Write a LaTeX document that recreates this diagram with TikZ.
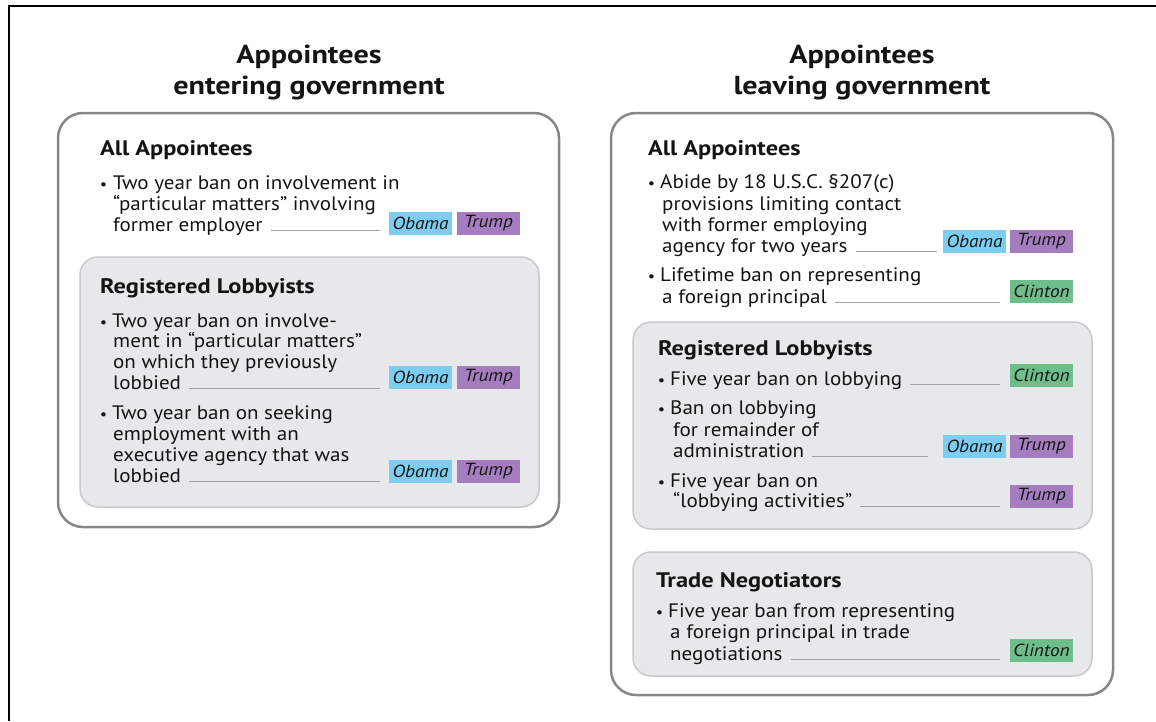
\documentclass[tikz,border=0pt]{standalone}
\usepackage{fontspec}
\setmainfont{PT Sans}[FakeStretch=1.08]
\newfontfamily\hdfont{PT Sans}[FakeStretch=1.16]
\newfontfamily\tagfont{PT Sans}[FakeStretch=1.1]
\definecolor{obama}{RGB}{125,205,240}
\definecolor{trump}{RGB}{165,125,190}
\definecolor{clinton}{RGB}{110,190,140}
\definecolor{boxgray}{RGB}{135,135,135}
\definecolor{innerfill}{RGB}{231,232,234}
\definecolor{innerdraw}{RGB}{200,201,204}
\definecolor{leadgray}{RGB}{160,160,160}
\definecolor{txtcol}{RGB}{20,20,20}
\begin{document}
\begin{tikzpicture}[x=1pt,y=-1pt,
 txt/.style={anchor=base west,inner sep=0pt,text=txtcol,font=\fontsize{19.5}{21}\selectfont},
 bul/.style={anchor=base,inner sep=0pt,text=txtcol,font=\fontsize{15}{15}\selectfont},
 hd/.style={anchor=base west,inner sep=0pt,text=txtcol,font=\hdfont\bfseries\fontsize{21}{24}\selectfont},
 ttl/.style={anchor=base,inner sep=0pt,text=txtcol,font=\hdfont\bfseries\fontsize{26}{30}\selectfont},
 tag/.style={minimum width=63pt,minimum height=23pt,inner sep=0pt,text=txtcol,font=\tagfont\itshape\fontsize{17.5}{18}\selectfont},
 leader/.style={draw=leadgray,line width=1pt},
 outerbox/.style={draw=boxgray,line width=2.5pt,rounded corners=25pt},
 innerbox/.style={fill=innerfill,draw=innerdraw,line width=1.5pt,rounded corners=18pt}]
\useasboundingbox (0,0) rectangle (1156,721);
\draw[line width=1.5pt] (1156,6) -- (9,6) -- (9,721);

% titles
\node[ttl] (tl1) at (309,63) {Appointees};
\node[ttl] (tl2) at (309,94) {entering government};
\node[ttl] (tr1) at (862,63) {Appointees};
\node[ttl] (tr2) at (862,94) {leaving government};

% boxes
\draw[outerbox] (58,113) rectangle (559,527);
\draw[innerbox] (80,257) rectangle (539,507);
\draw[outerbox] (611,113) rectangle (1113,695);
\draw[innerbox] (633,322) rectangle (1092,529);
\draw[innerbox] (633,552) rectangle (1092,676);

% ---------- left ----------
\node[hd] (la) at (100,155) {All Appointees};
\node[bul] (lb1) at (103.5,189) {•};
\node[txt] (l1a) at (113,189) {Two year ban on involvement in};
\node[txt] (l1b) at (113,210) {“particular matters” involving};
\node[txt] (l1c) at (113,231) {former employer};
\node[tag,fill=obama] (lo1) at (420.5,223.5) {Obama};
\node[tag,fill=trump] (lt1) at (488.5,223.5) {Trump};
\draw[leader] ([xshift=8pt,yshift=1pt]l1c.base east) -- ([xshift=-9pt,yshift=1pt]l1c.base east -| lo1.west);

\node[hd] (lr) at (100,293) {Registered Lobbyists};
\node[bul] (lb2) at (103.5,327) {•};
\node[txt] (l2a) at (112,327) {Two year ban on involve-};
\node[txt] (l2b) at (113,347) {ment in “particular matters”};
\node[txt] (l2c) at (113,368) {on which they previously};
\node[txt] (l2d) at (113,389) {lobbied};
\node[tag,fill=obama] (lo2) at (420.5,377) {Obama};
\node[tag,fill=trump] (lt2) at (488.5,377) {Trump};
\draw[leader] ([xshift=8pt,yshift=1pt]l2d.base east) -- ([xshift=-9pt,yshift=1pt]l2d.base east -| lo2.west);

\node[bul] (lb3) at (103.5,419) {•};
\node[txt] (l3a) at (112,419) {Two year ban on seeking};
\node[txt] (l3b) at (113,440) {employment with an};
\node[txt] (l3c) at (113,461) {executive agency that was};
\node[txt] (l3d) at (113,482) {lobbied};
\node[tag,fill=obama] (lo3) at (420.5,471) {Obama};
\node[tag,fill=trump] (lt3) at (488.5,471) {Trump};
\draw[leader] ([xshift=8pt,yshift=1pt]l3d.base east) -- ([xshift=-9pt,yshift=1pt]l3d.base east -| lo3.west);

% ---------- right ----------
\node[hd] (ra) at (648,155) {All Appointees};
\node[bul] (rb1) at (651.5,188) {•};
\node[txt] (r1a) at (660,188) {Abide by 18 U.S.C. §207(c)};
\node[txt] (r1b) at (662,210) {provisions limiting contact};
\node[txt] (r1c) at (662,231) {with former employing};
\node[txt] (r1d) at (662,252) {agency for two years};
\node[tag,fill=obama] (ro1) at (974.5,241.5) {Obama};
\node[tag,fill=trump] (rt1) at (1041.5,241.5) {Trump};
\draw[leader] ([xshift=8pt,yshift=1pt]r1d.base east) -- ([xshift=-6pt,yshift=1pt]r1d.base east -| ro1.west);

\node[bul] (rb2) at (651.5,281) {•};
\node[txt] (r2a) at (660,281) {Lifetime ban on representing};
\node[txt] (r2b) at (662,303) {a foreign principal};
\node[tag,fill=clinton] (rc2) at (1041.5,291.5) {Clinton};
\draw[leader] ([xshift=8pt,yshift=1pt]r2b.base east) -- ([xshift=-10pt,yshift=1pt]r2b.base east -| rc2.west);

\node[hd] (rr) at (658,355) {Registered Lobbyists};
\node[bul] (rb3) at (661.5,385) {•};
\node[txt] (r3a) at (670,385) {Five year ban on lobbying};
\node[tag,fill=clinton] (rc3) at (1041.5,375) {Clinton};
\draw[leader] ([xshift=8pt,yshift=1pt]r3a.base east) -- ([xshift=-10pt,yshift=1pt]r3a.base east -| rc3.west);

\node[bul] (rb4) at (661.5,414) {•};
\node[txt] (r4a) at (670,414) {Ban on lobbying};
\node[txt] (r4b) at (673,436) {for remainder of};
\node[txt] (r4c) at (673,457) {administration};
\node[tag,fill=obama] (ro4) at (974.5,446) {Obama};
\node[tag,fill=trump] (rt4) at (1041.5,446) {Trump};
\draw[leader] ([xshift=8pt,yshift=1pt]r4c.base east) -- ([xshift=-15pt,yshift=1pt]r4c.base east -| ro4.west);

\node[bul] (rb5) at (661.5,487) {•};
\node[txt] (r5a) at (670,487) {Five year ban on};
\node[txt] (r5b) at (673,507) {“lobbying activities”};
\node[tag,fill=trump] (rt5) at (1041.5,496) {Trump};
\draw[leader] ([xshift=8pt,yshift=1pt]r5b.base east) -- ([xshift=-10pt,yshift=1pt]r5b.base east -| rt5.west);

\node[hd] (rn) at (656,587) {Trade Negotiators};
\node[bul] (rb6) at (659.5,617) {•};
\node[txt] (r6a) at (668,617) {Five year ban from representing};
\node[txt] (r6b) at (670,638) {a foreign principal in trade};
\node[txt] (r6c) at (670,660) {negotiations};
\node[tag,fill=clinton] (rc6) at (1041.5,650) {Clinton};
\draw[leader] ([xshift=8pt,yshift=1pt]r6c.base east) -- ([xshift=-10pt,yshift=1pt]r6c.base east -| rc6.west);
\end{tikzpicture}
\end{document}
